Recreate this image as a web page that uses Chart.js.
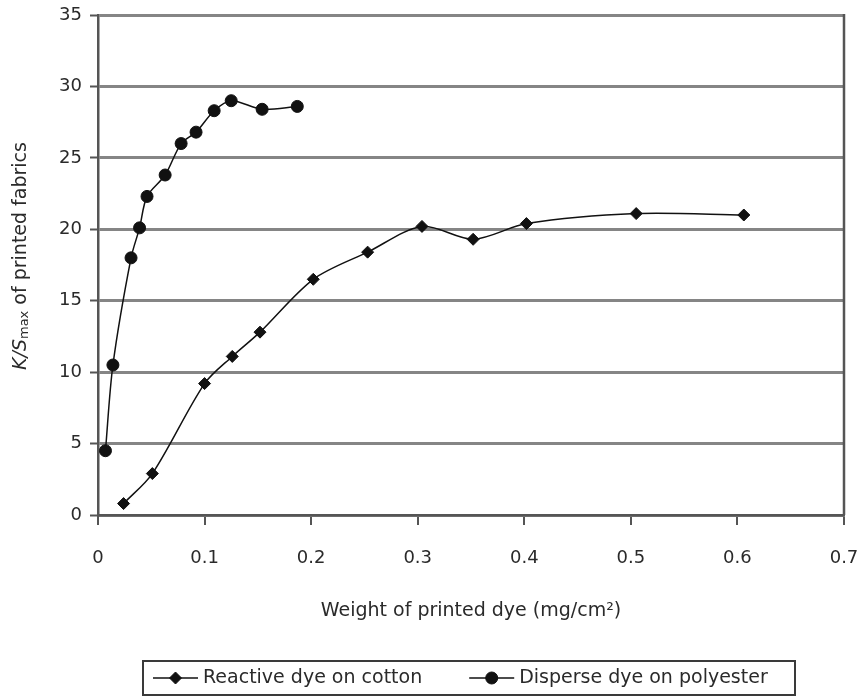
<!DOCTYPE html>
<html>
<head>
<meta charset="utf-8">
<script src="https://cdn.jsdelivr.net/npm/chart.js@4.4.1/dist/chart.umd.min.js"></script>
<style>
  html, body { margin: 0; padding: 0; background: #fff; }
  #wrap { width: 868px; height: 697px; }
</style>
</head>
<body>
<div id="wrap"><canvas id="kschart" width="868" height="697"></canvas></div>
<script>
// Reactive dye on cotton (diamond markers)
const reactiveWeight = [0.024, 0.051, 0.1, 0.126, 0.152, 0.202, 0.253, 0.304, 0.352, 0.402, 0.505, 0.606];
const reactiveKS = [0.8, 2.9, 9.2, 11.1, 12.8, 16.5, 18.4, 20.2, 19.3, 20.4, 21.1, 21.0];

// Disperse dye on polyester (round markers)
const disperseWeight = [0.007, 0.014, 0.031, 0.039, 0.046, 0.063, 0.078, 0.092, 0.109, 0.125, 0.154, 0.187];
const disperseKS = [4.5, 10.5, 18.0, 20.1, 22.3, 23.8, 26.0, 26.8, 28.3, 29.0, 28.4, 28.6];

const seriesNames = ['Reactive dye on cotton', 'Disperse dye on polyester'];

const xTickValues = [0, 0.1, 0.2, 0.3, 0.4, 0.5, 0.6, 0.7];
const xTickLabels = ['0', '0.1', '0.2', '0.3', '0.4', '0.5', '0.6', '0.7'];
const yTickValues = [0, 5, 10, 15, 20, 25, 30, 35];
const yTickLabels = ['0', '5', '10', '15', '20', '25', '30', '35'];

const FONT = 'DejaVu Sans';
const textColor = '#2a2a2a';
const gridColor = '#858585';
const axisColor = '#555555';

function toPoints(xs, ys){
  return xs.map((x, i) => ({x: x, y: ys[i]}));
}

// frame on the right, rotated y title with subscript, boxed legend
const decorPlugin = {
  id: 'decor',
  afterDraw(chart){
    const ctx = chart.ctx;
    const area = chart.chartArea;
    ctx.save();

    // right edge of plot frame
    ctx.strokeStyle = axisColor;
    ctx.lineWidth = 2.5;
    ctx.beginPath();
    ctx.moveTo(area.right, area.top - 1);
    ctx.lineTo(area.right, area.bottom);
    ctx.stroke();

    // y axis title: K/S(max) of printed fabrics
    const parts = [
      {t: 'K/S', font: 'italic 19px "' + FONT + '"', dy: 0},
      {t: 'max', font: '13px "' + FONT + '"', dy: 4},
      {t: ' of printed fabrics', font: '19px "' + FONT + '"', dy: 0}
    ];
    let total = 0;
    parts.forEach(p => { ctx.font = p.font; p.w = ctx.measureText(p.t).width; total += p.w; });
    ctx.translate(21, 256);
    ctx.rotate(-Math.PI / 2);
    ctx.fillStyle = textColor;
    ctx.textBaseline = 'middle';
    ctx.textAlign = 'left';
    let cx = -total / 2;
    parts.forEach(p => {
      ctx.font = p.font;
      ctx.fillText(p.t, cx, p.dy);
      cx += p.w;
    });
    ctx.setTransform(1, 0, 0, 1, 0, 0);

    // legend box
    const boxLeft = 143, boxRight = 795, boxTop = 661, boxBottom = 695;
    const midY = 678;
    ctx.strokeStyle = '#3a3a3a';
    ctx.lineWidth = 2;
    ctx.strokeRect(boxLeft, boxTop, boxRight - boxLeft, boxBottom - boxTop);

    ctx.font = '19px "' + FONT + '"';
    ctx.textBaseline = 'middle';
    let x = 153;
    chart.data.datasets.forEach((ds, i) => {
      const lineLen = 45;
      ctx.strokeStyle = '#111';
      ctx.lineWidth = 1.5;
      ctx.beginPath();
      ctx.moveTo(x, midY);
      ctx.lineTo(x + lineLen, midY);
      ctx.stroke();
      ctx.fillStyle = '#111';
      ctx.strokeStyle = '#111';
      ctx.lineWidth = 1;
      Chart.helpers.drawPoint(ctx, {
        pointStyle: ds.pointStyle,
        radius: ds.pointRadius,
        rotation: 0,
        borderWidth: 1
      }, x + lineLen / 2, midY);
      ctx.fillStyle = textColor;
      const tx = x + lineLen + 5;
      ctx.fillText(ds.label, tx, midY);
      x = tx + ctx.measureText(ds.label).width + 47;
    });

    ctx.restore();
  }
};

const ctx = document.getElementById('kschart').getContext('2d');
const ksChart = new Chart(ctx, {
  type: 'line',
  data: {
    datasets: [
      {
        label: seriesNames[0],
        data: toPoints(reactiveWeight, reactiveKS),
        borderColor: '#111',
        borderWidth: 1.5,
        backgroundColor: '#111',
        pointStyle: 'rectRot',
        pointRadius: 6,
        pointBackgroundColor: '#111',
        pointBorderColor: '#111',
        pointBorderWidth: 1,
        tension: 0.3,
        fill: false
      },
      {
        label: seriesNames[1],
        data: toPoints(disperseWeight, disperseKS),
        borderColor: '#111',
        borderWidth: 1.5,
        backgroundColor: '#111',
        pointStyle: 'circle',
        pointRadius: 6,
        pointBackgroundColor: '#111',
        pointBorderColor: '#111',
        pointBorderWidth: 1,
        tension: 0.3,
        fill: false
      }
    ]
  },
  options: {
    responsive: false,
    animation: false,
    devicePixelRatio: 1,
    layout: { padding: { top: 15, right: 24, left: 0, bottom: 36 } },
    plugins: {
      legend: { display: false },
      tooltip: { enabled: false }
    },
    scales: {
      x: {
        type: 'linear',
        min: 0,
        max: 0.7,
        afterFit: (scale) => {
          scale.height = 146;
          scale.paddingLeft = 0;
          scale.paddingRight = 0;
        },
        afterBuildTicks: (scale) => { scale.ticks = xTickValues.map(v => ({value: v})); },
        ticks: {
          callback: (v, i) => xTickLabels[i],
          padding: 23,
          color: textColor,
          font: { family: FONT, size: 18 },
          maxRotation: 0
        },
        grid: {
          drawOnChartArea: false,
          drawTicks: true,
          tickLength: 10,
          color: axisColor,
          lineWidth: 2
        },
        border: { display: true, color: axisColor, width: 2.5 },
        title: {
          display: true,
          text: 'Weight of printed dye (mg/cm²)',
          color: textColor,
          font: { family: FONT, size: 19 },
          padding: { top: 0, bottom: 39 }
        }
      },
      y: {
        min: 0,
        max: 35,
        afterFit: (scale) => {
          scale.width = 98;
          scale.paddingTop = 0;
          scale.paddingBottom = 0;
        },
        afterBuildTicks: (scale) => { scale.ticks = yTickValues.map(v => ({value: v})); },
        ticks: {
          callback: (v, i) => yTickLabels[i],
          padding: 8,
          color: textColor,
          font: { family: FONT, size: 18 }
        },
        grid: {
          color: gridColor,
          lineWidth: 3,
          tickLength: 8,
          tickColor: axisColor,
          tickWidth: 2
        },
        border: { display: true, color: axisColor, width: 2.5 }
      }
    }
  },
  plugins: [decorPlugin]
});
</script>
</body>
</html>
